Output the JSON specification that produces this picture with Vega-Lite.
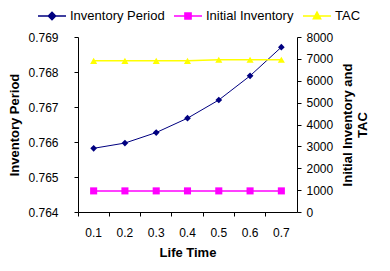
{
  "$schema": "https://vega.github.io/schema/vega-lite/v6.json",
  "width": 219,
  "height": 175,
  "autosize": {"type": "none"},
  "padding": {"left": 78, "top": 37, "right": 93, "bottom": 59},
  "background": "white",
  "config": {
    "font": "Liberation Sans",
    "view": {"stroke": null},
    "axis": {
      "grid": false,
      "domainColor": "black",
      "tickColor": "black",
      "labelColor": "black",
      "titleColor": "black",
      "labelFont": "Liberation Sans",
      "titleFont": "Liberation Sans",
      "labelFontSize": 12,
      "titleFontSize": 13,
      "titleFontWeight": "bold",
      "tickSize": 4
    }
  },
  "data": {
    "values": [
      {"t": "0.1", "series": "Inventory Period", "v": 0.76582},
      {"t": "0.2", "series": "Inventory Period", "v": 0.76597},
      {"t": "0.3", "series": "Inventory Period", "v": 0.76627},
      {"t": "0.4", "series": "Inventory Period", "v": 0.76668},
      {"t": "0.5", "series": "Inventory Period", "v": 0.7672},
      {"t": "0.6", "series": "Inventory Period", "v": 0.76789},
      {"t": "0.7", "series": "Inventory Period", "v": 0.76871},
      {"t": "0.1", "series": "Initial Inventory", "v": 965},
      {"t": "0.2", "series": "Initial Inventory", "v": 965},
      {"t": "0.3", "series": "Initial Inventory", "v": 965},
      {"t": "0.4", "series": "Initial Inventory", "v": 965},
      {"t": "0.5", "series": "Initial Inventory", "v": 965},
      {"t": "0.6", "series": "Initial Inventory", "v": 965},
      {"t": "0.7", "series": "Initial Inventory", "v": 965},
      {"t": "0.1", "series": "TAC", "v": 6910},
      {"t": "0.2", "series": "TAC", "v": 6910},
      {"t": "0.3", "series": "TAC", "v": 6910},
      {"t": "0.4", "series": "TAC", "v": 6910},
      {"t": "0.5", "series": "TAC", "v": 6960},
      {"t": "0.6", "series": "TAC", "v": 6960},
      {"t": "0.7", "series": "TAC", "v": 6960}
    ]
  },
  "encoding": {
    "x": {
      "field": "t",
      "type": "ordinal",
      "scale": {"type": "band", "paddingInner": 0, "paddingOuter": 0},
      "axis": {
        "title": "Life Time",
        "labelAngle": 0,
        "bandPosition": 0,
        "labelPadding": 11,
        "titlePadding": 8
      }
    }
  },
  "layer": [
    {
      "transform": [{"filter": {"field": "series", "equal": "Inventory Period"}}],
      "encoding": {
        "y": {
          "field": "v",
          "type": "quantitative",
          "scale": {"domain": [0.764, 0.769], "zero": false, "nice": false},
          "axis": {
            "title": "Inventory Period",
            "orient": "left",
            "values": [0.764, 0.765, 0.766, 0.767, 0.768, 0.769],
            "format": ".3f",
            "labelPadding": 16,
            "titlePadding": 6
          }
        }
      },
      "layer": [
        {"mark": {"type": "line", "color": "#000080", "strokeWidth": 1}},
        {"mark": {"type": "point", "shape": "diamond", "filled": true, "color": "#000080", "size": 45, "opacity": 1}}
      ]
    },
    {
      "encoding": {
        "y": {
          "field": "v",
          "type": "quantitative",
          "scale": {"domain": [0, 8000], "nice": false},
          "axis": {
            "title": ["Initial Inventory and", "TAC"],
            "orient": "right",
            "titleAngle": 270,
            "values": [0, 1000, 2000, 3000, 4000, 5000, 6000, 7000, 8000],
            "format": "d",
            "labelPadding": 5,
            "titlePadding": 7
          }
        }
      },
      "layer": [
        {
          "transform": [{"filter": {"field": "series", "equal": "Initial Inventory"}}],
          "layer": [
            {"mark": {"type": "line", "color": "#FF00FF", "strokeWidth": 1.5}},
            {"mark": {"type": "point", "shape": "square", "filled": true, "color": "#FF00FF", "size": 50, "opacity": 1}}
          ]
        },
        {
          "transform": [{"filter": {"field": "series", "equal": "TAC"}}],
          "layer": [
            {"mark": {"type": "line", "color": "#FFFF00", "strokeWidth": 1.5}},
            {"mark": {"type": "point", "shape": "triangle-up", "filled": true, "color": "#FFFF00", "size": 50, "opacity": 1}}
          ]
        },
        {
          "transform": [{"filter": {"field": "series", "equal": "none"}}],
          "mark": {"type": "point", "filled": true, "opacity": 1},
          "encoding": {
            "fill": {
              "field": "series",
              "type": "nominal",
              "scale": {"domain": ["Inventory Period", "Initial Inventory", "TAC"], "range": ["#000080", "#FF00FF", "#FFFF00"]},
              "legend": {"orient": "none", "legendX": -41, "legendY": -36, "direction": "horizontal", "columns": 3, "title": null, "labelFontSize": 13, "labelColor": "black", "symbolSize": 784, "symbolStrokeWidth": 1.5, "symbolOpacity": 1, "columnPadding": 6, "labelOffset": 3}
            },
            "stroke": {
              "field": "series",
              "type": "nominal",
              "scale": {"domain": ["Inventory Period", "Initial Inventory", "TAC"], "range": ["#000080", "#FF00FF", "#FFFF00"]},
              "legend": {"orient": "none", "legendX": -41, "legendY": -36, "direction": "horizontal", "columns": 3, "title": null, "labelFontSize": 13, "labelColor": "black", "symbolSize": 784, "symbolStrokeWidth": 1.5, "symbolOpacity": 1, "columnPadding": 6, "labelOffset": 3}
            },
            "shape": {
              "field": "series",
              "type": "nominal",
              "scale": {"domain": ["Inventory Period", "Initial Inventory", "TAC"], "range": ["M-1,0H1M0,-0.26L0.26,0L0,0.26L-0.26,0Z", "M-1,0H1M-0.22,-0.22H0.22V0.22H-0.22Z", "M-1,0H1M0,-0.28L0.26,0.2H-0.26Z"]},
              "legend": {"orient": "none", "legendX": -41, "legendY": -36, "direction": "horizontal", "columns": 3, "title": null, "labelFontSize": 13, "labelColor": "black", "symbolSize": 784, "symbolStrokeWidth": 1.5, "symbolOpacity": 1, "columnPadding": 6, "labelOffset": 3}
            }
          }
        }
      ]
    }
  ],
  "resolve": {"scale": {"y": "independent"}}
}
